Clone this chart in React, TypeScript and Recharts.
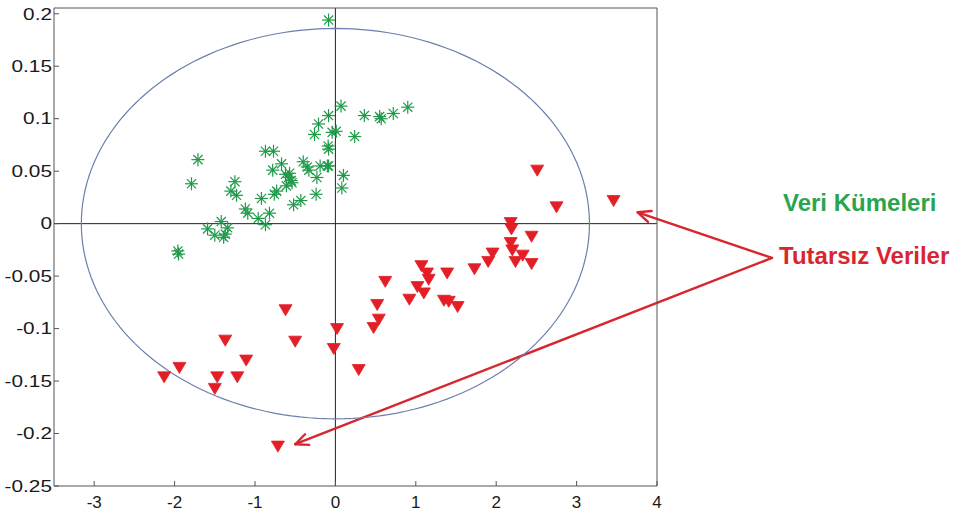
import React from 'react';
import { ScatterChart, Scatter, XAxis, YAxis, ReferenceLine } from 'recharts';

const xTicks = [-3, -2, -1, 0, 1, 2, 3, 4];
const yTicks = [-0.25, -0.2, -0.15, -0.1, -0.05, 0, 0.05, 0.1, 0.15, 0.2];

// "Veri Kümeleri" (green asterisks)
const clusterX = [0.07, -0.085, -0.21, -0.26, -0.04, 0.01, -0.09, -0.085, 0.24, 0.36, 0.55, 0.57, 0.72, 0.9,
  -1.71, -1.79, -0.87, -0.77, -1.25, -1.3, -1.23, -1.12, -1.09, -0.92, -0.82, -0.96, -0.87,
  -0.78, -0.67, -0.62, -0.58, -0.54, -0.61, -0.73, -0.76, -0.4, -0.35, -0.33, -0.23, -0.19, -0.085,
  -0.43, -0.52, -0.24, 0.1, 0.08, -1.42, -1.59, -1.5, -1.37, -1.34, -1.39, -1.96, -1.95, -0.085,
  -0.57, -0.55, -0.1];
const clusterY = [0.112, 0.103, 0.095, 0.085, 0.087, 0.088, 0.074, 0.071, 0.083, 0.103, 0.102, 0.1, 0.105, 0.111,
  0.061, 0.038, 0.069, 0.069, 0.04, 0.031, 0.027, 0.014, 0.01, 0.024, 0.01, 0.005, -0.001,
  0.051, 0.057, 0.047, 0.044, 0.039, 0.036, 0.031, 0.028, 0.059, 0.054, 0.051, 0.044, 0.055, 0.055,
  0.022, 0.018, 0.028, 0.046, 0.034, 0.002, -0.005, -0.011, -0.01, -0.004, -0.013, -0.026, -0.029, 0.194,
  0.048, 0.041, 0.055];

// "Tutarsız Veriler" (red triangles)
const outlierX = [-0.62, -0.5, -1.37, -1.94, -2.13, -1.11, -1.47, -1.22, -1.5, -0.715, 0.02, -0.02, 0.29,
  0.62, 0.52, 0.54, 0.475, 0.92, 1.07, 1.14, 1.16, 1.02, 1.1, 1.39, 1.35, 1.41, 1.52, 1.73, 1.9, 1.955,
  2.18, 2.19, 2.44, 2.18, 2.2, 2.33, 2.24, 2.44, 2.51, 2.75, 3.46];
const outlierY = [-0.082, -0.112, -0.111, -0.137, -0.146, -0.13, -0.146, -0.146, -0.157, -0.212, -0.1, -0.119, -0.139,
  -0.055, -0.077, -0.091, -0.099, -0.072, -0.04, -0.047, -0.053, -0.06, -0.066, -0.047, -0.073, -0.074, -0.079, -0.043, -0.036, -0.028,
  0.001, -0.005, -0.012, -0.018, -0.025, -0.03, -0.036, -0.038, 0.051, 0.016, 0.022];

const ellipseCenter = [0, 0];
const ellipseRadii = [3.16, 0.186];

const labelAnchor = [5.43, -0.0327];
const arrowTips = [[3.76, 0.0108], [-0.5, -0.2102]];

const clusterData = clusterX.map((x, i) => ({ x, y: clusterY[i] }));
const outlierData = outlierX.map((x, i) => ({ x, y: outlierY[i] }));
const ellipseData = Array.from({ length: 181 }, (_, i) => {
  const t = (i / 180) * 2 * Math.PI;
  return { x: ellipseCenter[0] + ellipseRadii[0] * Math.cos(t), y: ellipseCenter[1] + ellipseRadii[1] * Math.sin(t) };
});

const GREEN = '#1f9a4a';
const RED = '#e41e26';
const FONT = '"Liberation Sans", Arial, sans-serif';

const Star = (p: any) => {
  const { cx, cy } = p;
  if (cx == null || cy == null) return <g />;
  const r = 6.5;
  const d = 4.6;
  return (
    <g stroke={GREEN} strokeWidth={1.2} fill="none">
      <line x1={cx - r} y1={cy} x2={cx + r} y2={cy} />
      <line x1={cx} y1={cy - r} x2={cx} y2={cy + r} />
      <line x1={cx - d} y1={cy - d} x2={cx + d} y2={cy + d} />
      <line x1={cx - d} y1={cy + d} x2={cx + d} y2={cy - d} />
    </g>
  );
};

const TriDown = (p: any) => {
  const { cx, cy } = p;
  if (cx == null || cy == null) return <g />;
  return (
    <polygon
      points={`${cx - 6.5},${cy - 5} ${cx + 6.5},${cy - 5} ${cx},${cy + 6}`}
      fill={RED}
      stroke={RED}
      strokeWidth={0.8}
      strokeLinejoin="round"
    />
  );
};

const Empty = () => <g />;

const Arrow = (p: any) => {
  const { x1, y1, x2, y2 } = p;
  if (x1 == null) return <g />;
  const ang = Math.atan2(y2 - y1, x2 - x1);
  const L = 14;
  const w = 0.42;
  const ax = x2 - L * Math.cos(ang - w);
  const ay = y2 - L * Math.sin(ang - w);
  const bx = x2 - L * Math.cos(ang + w);
  const by = y2 - L * Math.sin(ang + w);
  return (
    <g stroke="#d8262e" strokeWidth={2.4} fill="none" strokeLinecap="round" strokeLinejoin="round">
      <line x1={x1} y1={y1} x2={x2} y2={y2} />
      <polyline points={`${ax},${ay} ${x2},${y2} ${bx},${by}`} />
    </g>
  );
};

const YTick = (p: any) => {
  const { x, y, payload } = p;
  return (
    <g transform={`translate(${x},${y})`}>
      <text textAnchor="end" dy="0.36em" transform="scale(1.3,1)" fontSize={16} fill="#1a1a1a" fontFamily={FONT}>
        {String(payload.value)}
      </text>
    </g>
  );
};

export default function App() {
  return (
    <div style={{ position: 'absolute', left: 0, top: 0, width: 962, height: 513, background: '#fff' }}>
      <ScatterChart width={962} height={513} margin={{ top: 7, right: 304, bottom: 0, left: 0 }}>
        <XAxis
          dataKey="x"
          type="number"
          domain={[-3.5, 4]}
          ticks={xTicks}
          allowDataOverflow
          height={27}
          tickSize={-5}
          tickMargin={15}
          axisLine={{ stroke: '#555' }}
          tickLine={{ stroke: '#555' }}
          tick={{ fontSize: 17, fill: '#1a1a1a', fontFamily: FONT }}
        />
        <XAxis
          xAxisId="top"
          orientation="top"
          type="number"
          domain={[-3.5, 4]}
          ticks={xTicks}
          allowDataOverflow
          height={1}
          tickSize={-5}
          tick={false}
          axisLine={{ stroke: '#555' }}
          tickLine={{ stroke: '#555' }}
        />
        <YAxis
          dataKey="y"
          type="number"
          domain={[-0.25, 0.2055]}
          ticks={yTicks}
          allowDataOverflow
          width={54}
          tickSize={-5}
          tickMargin={7}
          axisLine={{ stroke: '#555' }}
          tickLine={{ stroke: '#555' }}
          tick={<YTick />}
        />
        <YAxis
          yAxisId="right"
          orientation="right"
          type="number"
          domain={[-0.25, 0.2055]}
          ticks={yTicks}
          allowDataOverflow
          width={1}
          tickSize={-5}
          tick={false}
          axisLine={{ stroke: '#555' }}
          tickLine={{ stroke: '#555' }}
        />
        <ReferenceLine x={0} stroke="#222" strokeWidth={1} />
        <ReferenceLine y={0} stroke="#222" strokeWidth={1} />
        <Scatter
          data={ellipseData}
          line={{ stroke: '#6d7eae', strokeWidth: 1.2 }}
          shape={<Empty />}
          isAnimationActive={false}
        />
        <Scatter data={clusterData} shape={<Star />} isAnimationActive={false} />
        <Scatter data={outlierData} shape={<TriDown />} isAnimationActive={false} />
        {arrowTips.map((tip, i) => (
          <ReferenceLine
            key={i}
            segment={[{ x: labelAnchor[0], y: labelAnchor[1] }, { x: tip[0], y: tip[1] }]}
            ifOverflow="visible"
            shape={<Arrow />}
          />
        ))}
      </ScatterChart>
      <svg width={962} height={513} style={{ position: 'absolute', left: 0, top: 0, pointerEvents: 'none' }}>
        <text x={783} y={211} fontSize={24} fontWeight="bold" fill="#2aa44f" fontFamily={FONT}>Veri Kümeleri</text>
        <text x={779} y={264} fontSize={24} fontWeight="bold" fill="#d9262e" fontFamily={FONT}>Tutarsız Veriler</text>
      </svg>
    </div>
  );
}
